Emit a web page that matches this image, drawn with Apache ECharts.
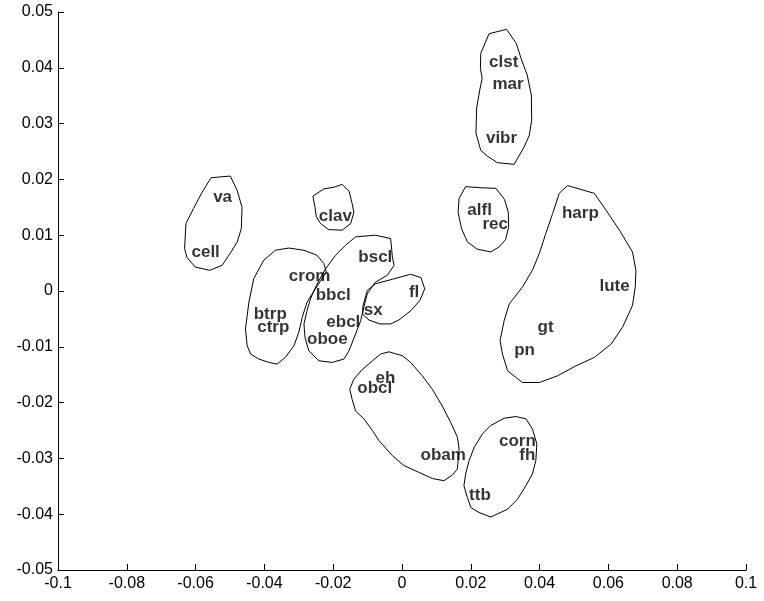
<!DOCTYPE html>
<html>
<head>
<meta charset="utf-8">
<script src="https://cdn.jsdelivr.net/npm/echarts@6/dist/echarts.min.js"></script>
<style>
html,body{margin:0;padding:0;background:#fff;}
#chart{width:764px;height:601px;}
</style>
</head>
<body>
<div id="chart"></div>
<script>
// Instrument labels (left edge x, vertical middle y)
var names = ['va','cell','clav','bscl','crom','bbcl','fl','sx','btrp','ctrp','ebcl','oboe','eh','obcl','obam','corn','fh','ttb','clst','mar','vibr','alfl','rec','harp','lute','gt','pn'];
var labelX = [-0.0549,-0.0612,-0.0242,-0.0127,-0.0329,-0.0251,0.0020,-0.0111,-0.0431,-0.0421,-0.0220,-0.0276,-0.0077,-0.0130,0.0054,0.0282,0.0341,0.0195,0.0253,0.0263,0.0244,0.0190,0.0234,0.0465,0.0574,0.0394,0.0326];
var labelY = [0.0168,0.0070,0.0134,0.0060,0.0027,-0.0007,-0.0002,-0.0035,-0.0041,-0.0065,-0.0057,-0.0086,-0.0156,-0.0174,-0.0295,-0.0270,-0.0294,-0.0367,0.0410,0.0371,0.0273,0.0145,0.0119,0.0140,0.0009,-0.0065,-0.0107];

// Cluster outlines
var hullStrings = [[-0.0555,0.0203],[-0.0499,0.0206],[-0.0479,0.0180],[-0.0465,0.0150],[-0.0467,0.0112],[-0.0479,0.0088],[-0.0499,0.0068],[-0.0523,0.0046],[-0.0559,0.0037],[-0.0601,0.0043],[-0.0625,0.0060],[-0.0632,0.0076],[-0.0628,0.0121],[-0.0606,0.0148],[-0.0581,0.0177]];
var hullClav = [[-0.0259,0.0170],[-0.0227,0.0183],[-0.0198,0.0186],[-0.0174,0.0191],[-0.0154,0.0179],[-0.0145,0.0157],[-0.0140,0.0141],[-0.0149,0.0121],[-0.0174,0.0109],[-0.0213,0.0110],[-0.0237,0.0121],[-0.0249,0.0133],[-0.0253,0.0150]];
var hullBrass = [[-0.0450,-0.0098],[-0.0455,-0.0068],[-0.0445,-0.0020],[-0.0431,0.0022],[-0.0402,0.0055],[-0.0368,0.0073],[-0.0329,0.0077],[-0.0285,0.0073],[-0.0247,0.0064],[-0.0227,0.0049],[-0.0220,0.0034],[-0.0259,-0.0003],[-0.0276,-0.0020],[-0.0290,-0.0047],[-0.0300,-0.0074],[-0.0314,-0.0098],[-0.0339,-0.0119],[-0.0363,-0.0131],[-0.0387,-0.0128],[-0.0416,-0.0122],[-0.0440,-0.0113]];
var hullReeds = [[-0.0135,0.0097],[-0.0077,0.0100],[-0.0033,0.0094],[-0.0028,0.0061],[-0.0023,0.0046],[-0.0043,0.0028],[-0.0077,0.0016],[-0.0101,-0.0005],[-0.0111,-0.0029],[-0.0120,-0.0053],[-0.0135,-0.0077],[-0.0154,-0.0107],[-0.0169,-0.0122],[-0.0203,-0.0128],[-0.0242,-0.0125],[-0.0271,-0.0107],[-0.0282,-0.0083],[-0.0285,-0.0059],[-0.0276,-0.0035],[-0.0266,-0.0014],[-0.0249,0.0010],[-0.0222,0.0040],[-0.0193,0.0064],[-0.0164,0.0082]];
var hullFlute = [[-0.0114,-0.0028],[-0.0101,0.0001],[-0.0077,0.0013],[-0.0028,0.0021],[0.0025,0.0030],[0.0055,0.0024],[0.0066,0.0004],[0.0052,-0.0017],[0.0026,-0.0035],[-0.0009,-0.0052],[-0.0033,-0.0059],[-0.0064,-0.0059],[-0.0096,-0.0052],[-0.0114,-0.0042]];
var hullDouble = [[-0.0038,-0.0109],[0.0001,-0.0116],[0.0025,-0.0128],[0.0059,-0.0152],[0.0088,-0.0176],[0.0117,-0.0206],[0.0142,-0.0236],[0.0161,-0.0262],[0.0166,-0.0283],[0.0161,-0.0319],[0.0146,-0.0330],[0.0122,-0.0340],[0.0088,-0.0336],[0.0049,-0.0325],[0.0006,-0.0313],[-0.0028,-0.0295],[-0.0067,-0.0268],[-0.0086,-0.0250],[-0.0111,-0.0229],[-0.0135,-0.0215],[-0.0145,-0.0194],[-0.0152,-0.0176],[-0.0140,-0.0158],[-0.0116,-0.0141],[-0.0086,-0.0125],[-0.0062,-0.0113]];
var hullHorns = [[0.0297,-0.0228],[0.0331,-0.0225],[0.0360,-0.0229],[0.0379,-0.0247],[0.0392,-0.0274],[0.0389,-0.0304],[0.0379,-0.0328],[0.0360,-0.0349],[0.0336,-0.0373],[0.0307,-0.0391],[0.0258,-0.0405],[0.0224,-0.0397],[0.0200,-0.0388],[0.0190,-0.0370],[0.0180,-0.0349],[0.0185,-0.0328],[0.0195,-0.0304],[0.0210,-0.0280],[0.0234,-0.0256],[0.0258,-0.0241]];
var hullMallets = [[0.0253,0.0461],[0.0304,0.0469],[0.0332,0.0444],[0.0346,0.0417],[0.0364,0.0387],[0.0376,0.0351],[0.0377,0.0306],[0.0370,0.0279],[0.0355,0.0258],[0.0326,0.0227],[0.0277,0.0230],[0.0250,0.0241],[0.0229,0.0252],[0.0215,0.0283],[0.0217,0.0328],[0.0226,0.0360],[0.0233,0.0381],[0.0228,0.0399],[0.0229,0.0426]];
var hullRecorder = [[0.0185,0.0187],[0.0229,0.0185],[0.0273,0.0184],[0.0298,0.0164],[0.0309,0.0141],[0.0310,0.0114],[0.0301,0.0092],[0.0282,0.0079],[0.0258,0.0070],[0.0219,0.0075],[0.0190,0.0088],[0.0173,0.0112],[0.0163,0.0141],[0.0166,0.0166]];
var hullPlucked = [[0.0481,0.0189],[0.0559,0.0175],[0.0593,0.0145],[0.0632,0.0109],[0.0670,0.0070],[0.0680,0.0037],[0.0678,0.0007],[0.0670,-0.0026],[0.0641,-0.0065],[0.0608,-0.0095],[0.0559,-0.0119],[0.0506,-0.0134],[0.0452,-0.0152],[0.0399,-0.0164],[0.0350,-0.0164],[0.0307,-0.0143],[0.0292,-0.0113],[0.0285,-0.0089],[0.0297,-0.0053],[0.0312,-0.0023],[0.0350,0.0007],[0.0379,0.0037],[0.0399,0.0067],[0.0418,0.0103],[0.0438,0.0139],[0.0457,0.0175]];
var hulls = [hullStrings, hullClav, hullBrass, hullReeds, hullFlute, hullDouble, hullHorns, hullMallets, hullRecorder, hullPlucked];

var chart = echarts.init(document.getElementById('chart'));
var series = hulls.map(function (h) {
  return {
    type: 'line',
    data: h.concat([h[0]]),
    showSymbol: false,
    symbol: 'none',
    lineStyle: { color: '#000', width: 1 },
    silent: true,
    z: 2
  };
});
series.push({
  type: 'scatter',
  symbolSize: 0,
  data: names.map(function (n, i) { return { name: n, value: [labelX[i], labelY[i]] }; }),
  label: {
    show: true,
    formatter: '{b}',
    position: 'right',
    distance: 0,
    color: '#000',
    fontFamily: 'Liberation Sans, Arial, sans-serif',
    fontWeight: 'bold',
    fontSize: 17
  },
  z: 3
});

var axisCommon = {
  type: 'value',
  axisLine: { show: true, onZero: false, lineStyle: { color: '#000', width: 1 } },
  axisTick: { show: true, inside: true, length: 6, lineStyle: { color: '#000' } },
  splitLine: { show: false },
  axisLabel: { color: '#000', fontFamily: 'Liberation Sans, Arial, sans-serif', fontSize: 16 }
};
chart.setOption({
  animation: false,
  backgroundColor: '#fff',
  grid: { left: 58, right: 18, top: 12, bottom: 31, containLabel: false },
  xAxis: Object.assign({}, axisCommon, { min: -0.1, max: 0.1, interval: 0.02,
    axisLabel: Object.assign({}, axisCommon.axisLabel, { margin: 6 }) }),
  yAxis: Object.assign({}, axisCommon, { min: -0.05, max: 0.05, interval: 0.01,
    axisLabel: Object.assign({}, axisCommon.axisLabel, { margin: 5 }) }),
  series: series
});
</script>
</body>
</html>
